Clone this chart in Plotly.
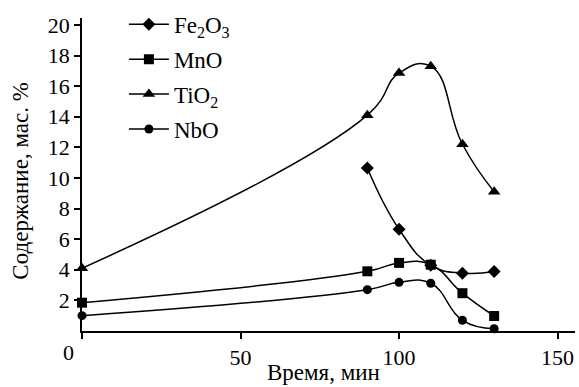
import plotly.graph_objects as go

time = [0, 90, 100, 110, 120, 130]
fe2o3_time = [90, 100, 110, 120, 130]
fe2o3 = [10.65, 6.65, 4.3, 3.78, 3.88]
mno = [1.85, 3.9, 4.45, 4.33, 2.47, 0.98]
tio2 = [4.1, 14.1, 16.85, 17.3, 12.2, 9.1]
nbo = [1.0, 2.7, 3.18, 3.12, 0.7, 0.15]

names = ["Fe<sub>2</sub>O<sub>3</sub>", "MnO", "TiO<sub>2</sub>", "NbO"]
symbols = ["diamond", "square", "triangle-up", "circle"]
sizes = [10, 10, 11, 9]
xs = [fe2o3_time, time, time, time]
ys = [fe2o3, mno, tio2, nbo]

FONT = "Liberation Serif, DejaVu Serif, serif"
fig = go.Figure()
for i in range(4):
    fig.add_trace(go.Scatter(
        x=xs[i], y=ys[i], name=names[i], legendgroup=str(i),
        mode="lines+markers",
        line=dict(color="black", width=1.5, shape="spline", smoothing=1.3),
        marker=dict(symbol=symbols[i], size=sizes[i], color="black"),
        cliponaxis=False,
    ))

fig.update_layout(
    width=579, height=387,
    margin=dict(l=82, r=4, t=17, b=56),
    paper_bgcolor="white", plot_bgcolor="white",
    font=dict(family=FONT, size=22, color="black"),
    showlegend=True,
    legend=dict(x=0.085, y=1.045, xanchor="left", yanchor="top",
                bgcolor="rgba(0,0,0,0)", tracegroupgap=2,
                font=dict(size=23), itemwidth=40),
    xaxis=dict(range=[0, 155.5], showline=True, linecolor="black", linewidth=1.5,
               ticks="outside", ticklen=6, tickcolor="black", tickwidth=1.5,
               tickvals=[0, 50, 100, 150], ticktext=["", "50", "100", "150"],
               showgrid=False, zeroline=False, automargin=False),
    yaxis=dict(range=[0, 20.45], showline=True, linecolor="black", linewidth=1.5,
               ticks="outside", ticklen=6, tickcolor="black", tickwidth=1.5,
               tickvals=list(range(2, 21, 2)),
               showgrid=False, zeroline=False, automargin=False),
)
fig.add_annotation(text="Содержание, мас. %", xref="paper", yref="paper",
                   x=-0.124, y=0.48, textangle=-90, showarrow=False,
                   xanchor="center", yanchor="middle", font=dict(size=23))
fig.add_annotation(text="Время, мин", xref="paper", yref="paper",
                   x=0.49, y=-0.178, showarrow=False,
                   xanchor="center", yanchor="bottom", font=dict(size=23))
fig.add_annotation(text="0", xref="paper", yref="paper", x=-0.028, y=-0.07,
                   showarrow=False, xanchor="center", yanchor="middle",
                   font=dict(size=22))
fig.write_html("out.html", post_script="document.body.style.margin='0';",
               config={"displayModeBar": False})
